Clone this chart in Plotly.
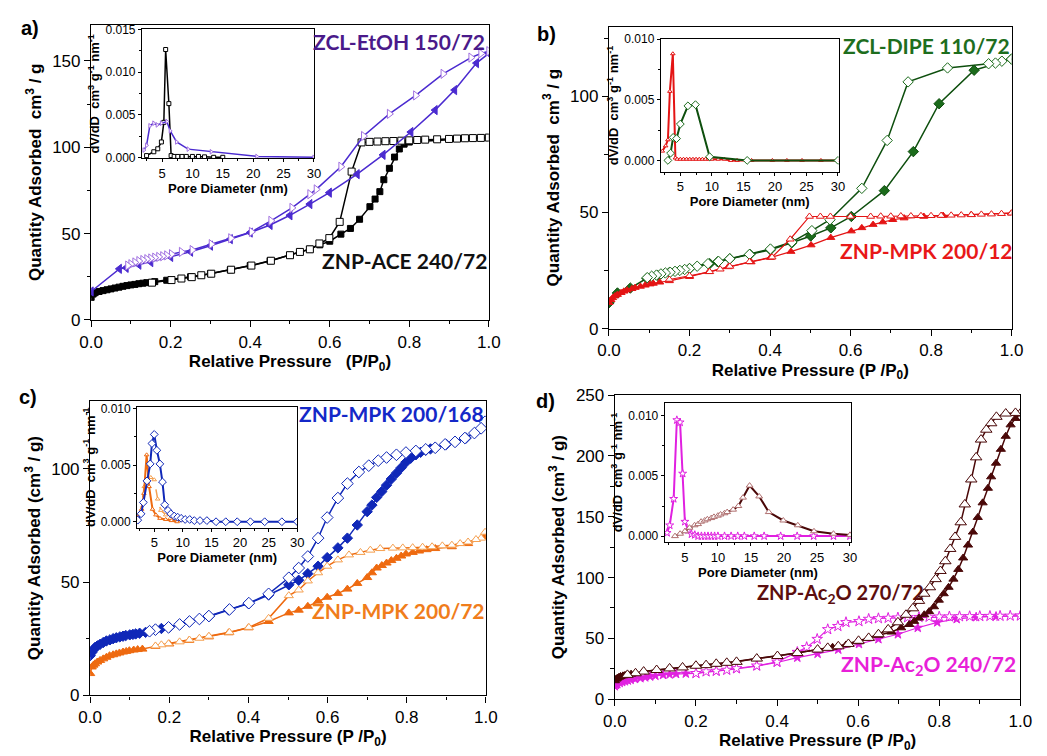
import plotly.graph_objects as go

W, H = 1047, 756

# ---------------- Panel a data ----------------
ace_ads_p = [0.0, 0.005, 0.01, 0.02, 0.03, 0.04, 0.05, 0.06, 0.07, 0.08, 0.09, 0.10, 0.11, 0.12, 0.13, 0.14, 0.16, 0.19,
             0.25, 0.3, 0.35, 0.4, 0.45, 0.5, 0.55, 0.575, 0.6, 0.628, 0.652, 0.675, 0.701, 0.714, 0.726, 0.736, 0.75,
             0.763, 0.775, 0.787, 0.8, 1.0]
ace_ads_q = [13.1, 15.0, 15.8, 16.5, 17.0, 17.5, 18.0, 18.5, 19.0, 19.5, 19.9, 20.3, 20.6, 21.0, 21.3, 21.6, 22.2, 23.0,
             25.0, 26.8, 29.0, 31.5, 34.3, 37.5, 41.0, 43.5, 45.6, 49.7, 53.0, 58.3, 65.6, 70.0, 74.3, 81.2, 87.8,
             94.3, 99.0, 101.8, 103.0, 105.6]
ace_des_p = [1.0, 0.98, 0.96, 0.94, 0.92, 0.9, 0.87, 0.84, 0.82, 0.8, 0.78, 0.76, 0.74, 0.72, 0.7, 0.68, 0.655, 0.625,
             0.599, 0.574, 0.55, 0.525, 0.5, 0.452, 0.403, 0.352, 0.302, 0.277, 0.253, 0.227, 0.202, 0.153]
ace_des_q = [105.6, 105.4, 105.3, 105.2, 105.0, 104.8, 104.6, 104.4, 104.2, 104.0, 103.8, 103.6, 103.5, 103.3, 103.1,
             102.8, 85.9, 56.8, 47.4, 44.3, 40.9, 39.4, 37.5, 34.3, 31.5, 29.1, 26.8, 25.9, 24.8, 24.0, 23.1, 21.6]
etoh_ads_p = [0.0, 0.071, 0.088, 0.12, 0.15, 0.2, 0.25, 0.3, 0.35, 0.4, 0.45, 0.5, 0.55, 0.599, 0.669, 0.734, 0.804,
              0.865, 0.914, 0.969, 1.0]
etoh_ads_q = [16.5, 29.6, 30.2, 32.0, 33.5, 36.5, 39.5, 43.0, 46.8, 50.6, 55.0, 60.6, 67.1, 73.7, 84.4, 95.6, 108.8,
              121.5, 133.1, 148.7, 154.3]
etoh_des_p = [1.0, 0.98, 0.955, 0.885, 0.816, 0.75, 0.685, 0.628, 0.566, 0.55, 0.505, 0.452, 0.403, 0.351, 0.302,
              0.254, 0.227, 0.202, 0.19, 0.18, 0.17, 0.16, 0.15, 0.14, 0.13, 0.12, 0.11, 0.1, 0.092]
etoh_des_q = [155.6, 154.3, 151.9, 142.5, 130.0, 119.3, 106.5, 88.7, 75.6, 72.8, 64.9, 57.4, 51.0, 47.3, 43.9, 40.5,
              39.4, 38.1, 37.4, 36.9, 36.5, 36.1, 35.6, 35.2, 34.7, 34.1, 33.3, 32.3, 31.5]
ace_psd_d = [2.46, 3.65, 4.3, 4.9, 5.3, 5.6, 6.13, 6.5, 7.0, 7.6, 8.3, 9.0, 10.0, 11.0, 12.0, 13.5, 15.0]
ace_psd_v = [0.0002, 0.00065, 0.001, 0.0018, 0.0041, 0.01265, 0.0063, 0.0002, 0.0001, 0.0001, 0.0001, 0.0001,
             0.0001, 0.0001, 0.00005, 0.0, 0.0]
etoh_psd_d = [2.03, 2.46, 3.0, 3.65, 4.2, 4.9, 5.8, 6.35, 7.4, 9.3, 13.1, 20.6, 30.0]
etoh_psd_v = [0.00085, 0.0014, 0.0037, 0.004, 0.0038, 0.004, 0.0042, 0.0031, 0.0018, 0.00096, 0.00065, 0.0001, 0.0]

# ---------------- Panel b data ----------------
dipe_ads_p = [0.0, 0.021, 0.053, 0.094, 0.12, 0.15, 0.2, 0.25, 0.27, 0.3, 0.35, 0.401, 0.454, 0.501, 0.551, 0.602,
              0.684, 0.756, 0.82, 0.907, 1.0]
dipe_ads_q = [11.2, 15.4, 17.5, 21.7, 23.0, 24.2, 25.9, 28.0, 28.8, 30.1, 32.0, 34.0, 37.0, 39.9, 43.4, 48.3, 59.4,
              76.2, 96.8, 111.2, 116.0]
dipe_des_p = [1.0, 0.976, 0.96, 0.943, 0.841, 0.743, 0.691, 0.628, 0.549, 0.504, 0.454, 0.401, 0.349, 0.3, 0.272,
              0.246, 0.219, 0.2, 0.188, 0.176, 0.164, 0.152, 0.14, 0.129, 0.118, 0.106, 0.095]
dipe_des_q = [116.0, 115.1, 114.3, 114.0, 112.2, 106.2, 81.0, 60.4, 46.9, 42.2, 37.3, 34.3, 32.0, 30.1, 29.0, 28.0,
              26.9, 25.9, 25.5, 25.1, 24.7, 24.3, 24.0, 23.6, 23.1, 22.6, 22.0]
mpk12_ads_p = [0.0, 0.005, 0.009, 0.015, 0.021, 0.03, 0.037, 0.045, 0.057, 0.065, 0.078, 0.09, 0.102, 0.11, 0.126,
               0.15, 0.2, 0.248, 0.296, 0.353, 0.401, 0.452, 0.502, 0.551, 0.602, 0.628, 0.656, 0.68, 0.705, 0.733,
               0.782, 0.83, 0.9, 1.0]
mpk12_ads_q = [11.2, 12.4, 13.3, 14.1, 14.7, 15.5, 16.1, 16.6, 17.2, 17.7, 18.2, 18.7, 19.2, 19.5, 20.0, 20.6, 22.4,
               24.5, 26.6, 28.7, 30.6, 33.2, 36.0, 39.2, 42.0, 43.4, 44.8, 45.9, 46.9, 47.6, 48.3, 48.7, 49.1, 49.7]
mpk12_des_p = [1.0, 0.975, 0.95, 0.925, 0.9, 0.875, 0.85, 0.825, 0.8, 0.775, 0.75, 0.725, 0.7, 0.675, 0.65, 0.6,
               0.55, 0.525, 0.498, 0.45, 0.405, 0.349, 0.3, 0.276, 0.25, 0.2, 0.15]
mpk12_des_q = [49.7, 49.5, 49.3, 49.2, 49.0, 48.9, 48.8, 48.7, 48.6, 48.6, 48.5, 48.5, 48.4, 48.4, 48.3, 48.3, 48.3,
               48.3, 48.3, 38.5, 30.8, 28.8, 26.8, 25.6, 24.5, 22.8, 21.2]
mpk12_psd_d = [2.15, 2.67, 3.03, 3.34, 3.81, 4.22, 4.5, 5.0, 5.5, 6.0, 6.5, 7.0, 7.5, 8.0, 8.5, 9.0, 9.5, 10.0, 11.0,
               12.0, 13.0, 14.0, 16.3, 19.6, 21.9, 24.3, 27.3, 30.0]
mpk12_psd_v = [0.00077, 0.0012, 0.0017, 0.0057, 0.0088, 0.0002, 0.0001, 0.0001, 0.0001, 0.0001, 0.0001, 0.0001,
               0.0001, 0.0001, 0.0001, 0.0001, 0.0001, 0.0001, 0.0001, 0.0001, 0.0, 0.0, 0.0, 0.0, 0.0, 0.0, 0.0, 0.0]
dipe_psd_d = [3.03, 3.45, 3.86, 4.4, 5.0, 6.2, 7.4, 9.65, 15.6, 30.0]
dipe_psd_v = [0.0, 0.0006, 0.0019, 0.0018, 0.003, 0.0045, 0.0046, 0.0003, 0.0, 0.0]

# ---------------- Panel c data ----------------
mpk168_ads_p = [0.0, 0.004, 0.008, 0.012, 0.018, 0.025, 0.033, 0.041, 0.05, 0.058, 0.066, 0.075, 0.083, 0.09, 0.1,
                0.108, 0.115, 0.125, 0.14, 0.165, 0.18, 0.2, 0.25, 0.3, 0.35, 0.4, 0.451, 0.502, 0.527, 0.55, 0.576,
                0.599, 0.626, 0.65, 0.675, 0.7, 0.712, 0.724, 0.737, 0.749, 0.761, 0.774, 0.786, 0.798, 0.81, 0.823,
                0.835, 0.848, 0.86, 0.872, 0.9, 0.95, 1.0]
mpk168_ads_q = [17.5, 18.9, 20.0, 21.1, 21.8, 22.5, 23.3, 24.0, 24.5, 25.0, 25.4, 25.8, 26.1, 26.4, 26.7, 26.9, 27.1,
                27.4, 27.8, 29.0, 29.5, 30.0, 32.5, 34.8, 37.7, 40.5, 44.3, 48.8, 50.8, 53.7, 57.0, 60.8, 65.1, 69.4,
                75.2, 81.1, 84.0, 87.4, 90.0, 92.8, 95.5, 98.1, 100.5, 102.9, 104.7, 106.2, 107.3, 108.2, 108.8, 109.3,
                110.8, 113.6, 120.0]
mpk168_des_p = [0.998, 0.988, 0.971, 0.947, 0.922, 0.897, 0.872, 0.848, 0.823, 0.798, 0.774, 0.749, 0.728, 0.704,
                0.679, 0.65, 0.626, 0.599, 0.576, 0.55, 0.527, 0.502, 0.451, 0.401, 0.352, 0.3, 0.276, 0.251, 0.226,
                0.198, 0.165, 0.15]
mpk168_des_q = [120.8, 117.9, 115.8, 113.6, 111.9, 110.8, 109.3, 108.6, 107.9, 107.2, 106.2, 105.0, 103.6, 101.4,
                98.6, 93.5, 87.1, 78.5, 69.4, 61.3, 56.2, 51.9, 44.8, 40.7, 37.9, 35.0, 33.7, 32.6, 31.3, 30.0, 29.0,
                28.3]
mpk72_ads_p = [0.0, 0.004, 0.008, 0.012, 0.018, 0.025, 0.033, 0.041, 0.049, 0.058, 0.066, 0.074, 0.083, 0.091,
               0.099, 0.11, 0.12, 0.132, 0.165, 0.2, 0.25, 0.3, 0.35, 0.4, 0.451, 0.502, 0.527, 0.55, 0.576, 0.599,
               0.626, 0.65, 0.675, 0.7, 0.712, 0.724, 0.737, 0.749, 0.761, 0.774, 0.786, 0.798, 0.815, 0.831, 0.85,
               0.872, 0.914, 0.955, 0.998]
mpk72_ads_q = [9.6, 12.5, 13.3, 13.9, 14.7, 15.4, 16.1, 16.8, 17.5, 17.9, 18.3, 18.7, 19.1, 19.4, 19.7, 20.0, 20.2,
               20.4, 21.6, 22.7, 24.2, 25.8, 27.6, 29.8, 32.6, 36.4, 37.6, 39.3, 41.6, 43.3, 45.0, 46.9, 49.4, 52.0,
               54.1, 56.2, 57.3, 58.4, 59.5, 60.5, 61.5, 62.4, 63.1, 63.7, 64.3, 64.8, 65.6, 67.0, 69.9]
mpk72_des_p = [0.998, 0.988, 0.975, 0.955, 0.935, 0.914, 0.89, 0.864, 0.84, 0.815, 0.79, 0.765, 0.733, 0.708, 0.683,
               0.654, 0.626, 0.599, 0.576, 0.55, 0.527, 0.502, 0.451, 0.401, 0.352, 0.3, 0.276, 0.251, 0.226, 0.198,
               0.18, 0.165]
mpk72_des_q = [72.0, 69.4, 68.8, 67.7, 67.0, 66.3, 66.0, 65.6, 65.4, 65.2, 65.1, 65.0, 64.8, 64.1, 63.1, 62.0, 59.8,
               57.0, 54.1, 50.5, 46.5, 44.0, 34.0, 30.0, 27.8, 26.1, 25.2, 24.4, 23.6, 22.8, 22.3, 21.8]
mpk168_psd_d = [2.12, 2.7, 3.1, 3.73, 4.3, 4.6, 5.0, 5.46, 5.98, 6.44, 6.84, 7.4, 7.9, 8.5, 9.1, 9.7, 10.4, 11.2,
                12.0, 13.0, 14.2, 15.8, 17.5, 19.5, 21.8, 24.3, 27.3, 30.0]
mpk168_psd_v = [0.00014, 0.0007, 0.0017, 0.0036, 0.0051, 0.0069, 0.0077, 0.0063, 0.0051, 0.0035, 0.0015, 0.001,
                0.0007, 0.0005, 0.0004, 0.0003, 0.0002, 0.0002, 0.0001, 0.0001, 0.0001, 0.0, 0.0, 0.0, 0.0, 0.0, 0.0,
                0.0]
mpk72_psd_d = [1.97, 2.8, 3.2, 3.67, 4.1, 4.7, 5.3, 6.0, 7.0, 8.0, 9.0]
mpk72_psd_v = [0.0004, 0.0011, 0.0025, 0.0059, 0.0031, 0.0011, 0.0006, 0.0003, 0.0002, 0.0001, 0.0]
mpk72b_psd_d = [2.5, 3.26, 3.85, 4.4, 5.0, 5.6, 6.15, 7.0, 7.8, 8.6, 9.5]
mpk72b_psd_v = [0.0006, 0.0031, 0.0037, 0.0039, 0.0037, 0.002, 0.001, 0.0006, 0.0003, 0.0002, 0.0001]

# ---------------- Panel d data ----------------
ac270_ads_p = [0.0, 0.003, 0.006, 0.01, 0.014, 0.02, 0.025, 0.031, 0.04, 0.051, 0.071, 0.103, 0.135, 0.167, 0.2,
               0.25, 0.3, 0.35, 0.401, 0.45, 0.5, 0.537, 0.57, 0.602, 0.626, 0.65, 0.682, 0.706, 0.726, 0.738, 0.75,
               0.763, 0.775, 0.787, 0.799, 0.811, 0.823, 0.835, 0.847, 0.859, 0.871, 0.883, 0.895, 0.907, 0.92,
               0.928, 0.94, 0.952, 0.964, 0.976, 0.988, 1.0]
ac270_ads_q = [15.2, 16.5, 17.3, 18.0, 18.7, 19.2, 19.6, 20.0, 20.6, 21.3, 22.7, 24.0, 25.3, 26.1, 27.5, 29.1, 30.7,
               33.4, 35.5, 37.9, 40.8, 42.7, 44.6, 47.2, 49.9, 52.6, 55.2, 58.7, 61.4, 64.0, 66.7, 69.4, 72.0, 76.0,
               81.4, 86.7, 92.0, 98.7, 106.7, 116.1, 126.7, 137.4, 149.4, 161.4, 173.4, 182.8, 194.0, 205.4, 216.1,
               225.5, 230.8, 234.8]
ac270_des_p = [1.0, 0.988, 0.964, 0.941, 0.928, 0.916, 0.903, 0.891, 0.879, 0.863, 0.853, 0.839, 0.827, 0.815,
               0.803, 0.791, 0.777, 0.763, 0.75, 0.735, 0.718, 0.698, 0.674, 0.65, 0.626, 0.601, 0.576, 0.551, 0.525,
               0.5, 0.45, 0.401, 0.35, 0.3, 0.276, 0.25, 0.225, 0.2, 0.167, 0.135, 0.103, 0.071, 0.051, 0.031]
ac270_des_q = [234.8, 235.3, 234.8, 232.1, 226.8, 221.5, 213.4, 198.8, 180.6, 160.1, 145.4, 133.4, 123.5, 113.4,
               105.4, 98.7, 92.0, 86.7, 80.8, 74.7, 69.4, 63.2, 57.4, 53.4, 50.4, 48.0, 45.4, 43.5, 42.2, 40.8, 37.9,
               35.5, 33.4, 30.7, 29.9, 29.1, 28.0, 27.5, 26.1, 25.3, 24.0, 22.7, 21.3, 20.0]
ac240_ads_p = [0.0, 0.003, 0.006, 0.012, 0.018, 0.025, 0.032, 0.039, 0.05, 0.063, 0.075, 0.087, 0.1, 0.119, 0.135,
               0.151, 0.175, 0.2, 0.25, 0.3, 0.35, 0.4, 0.45, 0.5, 0.551, 0.602, 0.65, 0.698, 0.747, 0.795, 0.843,
               0.891, 0.94, 1.0]
ac240_ads_q = [10.7, 11.8, 12.5, 13.4, 14.1, 14.8, 15.4, 16.0, 16.6, 17.3, 18.0, 18.7, 19.3, 20.0, 20.4, 20.8, 21.1,
               21.3, 23.0, 25.0, 27.2, 30.2, 34.2, 37.4, 40.8, 45.4, 49.4, 53.4, 58.7, 63.2, 65.9, 67.5, 68.0, 68.6]
ac240_des_p = [1.0, 0.975, 0.95, 0.925, 0.9, 0.875, 0.85, 0.825, 0.8, 0.775, 0.75, 0.722, 0.698, 0.674, 0.65, 0.626,
               0.602, 0.57, 0.55, 0.525, 0.499, 0.473, 0.45, 0.4, 0.35, 0.3, 0.276, 0.25, 0.225, 0.2]
ac240_des_q = [68.6, 68.5, 68.4, 68.3, 68.2, 68.1, 68.0, 67.9, 67.8, 67.6, 67.4, 67.2, 67.0, 66.7, 66.4, 65.9, 64.0,
               63.2, 60.0, 57.4, 49.4, 42.7, 38.7, 30.7, 27.5, 25.3, 24.0, 23.2, 22.7, 21.3]
ac240_psd_d = [2.3, 2.7, 3.3, 3.78, 4.27, 4.66, 5.0, 5.5, 6.0, 6.5, 7.0, 7.5, 8.0, 8.5, 9.0, 9.5, 10.0, 11.0, 12.0,
               13.0, 14.0, 15.5, 17.0, 19.5, 22.0, 24.5, 27.5, 30.0]
ac240_psd_v = [0.00027, 0.0009, 0.0031, 0.00965, 0.00946, 0.0052, 0.0012, 0.0005, 0.00016, 0.0001, 0.0, 0.0, 0.0,
               0.0, 0.0, 0.0, 0.0, 0.0, 0.0, 0.0, 0.0, 0.0, 0.0, 0.0, 0.0, 0.0, 0.0, 0.0]
ac270_psd_d = [3.5, 4.27, 5.0, 5.7, 6.47, 7.0, 7.45, 8.0, 8.4, 9.0, 9.4, 10.0, 10.4, 11.0, 11.4, 12.3, 13.1, 13.8,
               14.8, 16.25, 17.7, 19.9, 22.1, 24.55, 27.5, 30.0]
ac270_psd_v = [0.0, 0.0002, 0.0004, 0.0007, 0.0009, 0.001, 0.0012, 0.0013, 0.0014, 0.0015, 0.0016, 0.0017, 0.0018,
               0.0019, 0.002, 0.0022, 0.0025, 0.0032, 0.0042, 0.0033, 0.002, 0.0013, 0.0009, 0.0004, 0.0002, 0.0001]

# ---------------- figure ----------------
fig = go.Figure()


def add(ax, x, y, color, symbol, size, fill, lw=1.5, dash=None, mline=None, mlw=1):
    fig.add_trace(go.Scatter(
        x=x, y=y, xaxis='x' + ax, yaxis='y' + ax, mode='lines+markers',
        line=dict(color=color, width=lw, dash=dash),
        marker=dict(symbol=symbol, size=size, color=fill, line=dict(color=mline or color, width=mlw)),
        showlegend=False, hoverinfo='skip'))


BLACK = '#000000'
PURP = '#4B2BD0'
PURP_O = '#A070E0'
GREEN = '#0E4F0E'
GREEN_F = '#1B6B1B'
RED = '#E41414'
BLUE = '#1028B8'
ORANGE = '#EE6A10'
ORANGE_L = '#F5A050'
MAROON = '#4A0808'
MAGENTA = '#E020E0'

# a main
add('1', ace_ads_p, ace_ads_q, BLACK, 'square', 6, BLACK)
add('1', ace_des_p, ace_des_q, BLACK, 'square', 7, 'white')
add('1', etoh_ads_p, etoh_ads_q, PURP, 'triangle-left', 8, PURP)
add('1', etoh_des_p, etoh_des_q, PURP, 'triangle-right', 8, 'white', mline=PURP_O)
# a inset
add('2', ace_psd_d, ace_psd_v, BLACK, 'square', 4, 'white', lw=1.5)
add('2', etoh_psd_d, etoh_psd_v, PURP, 'triangle-right', 4, 'white', lw=1.5, mline=PURP_O)
# b main
add('3', dipe_ads_p, dipe_ads_q, GREEN, 'diamond', 8, GREEN_F)
add('3', dipe_des_p, dipe_des_q, GREEN, 'diamond', 8, 'white', mline=GREEN_F)
add('3', mpk12_ads_p, mpk12_ads_q, RED, 'triangle-up', 7, RED, lw=1.2)
add('3', mpk12_des_p, mpk12_des_q, RED, 'triangle-up', 7, 'white', lw=1.2)
# b inset
add('4', mpk12_psd_d, mpk12_psd_v, RED, 'triangle-up', 4, 'white', lw=2)
add('4', dipe_psd_d, dipe_psd_v, GREEN, 'diamond', 6, 'white', lw=2, mline=GREEN_F)
# c main
add('5', mpk168_ads_p, mpk168_ads_q, BLUE, 'diamond', 8, BLUE)
add('5', mpk168_des_p, mpk168_des_q, BLUE, 'diamond', 9, 'white')
add('5', mpk72_ads_p, mpk72_ads_q, ORANGE, 'triangle-up', 8, ORANGE)
add('5', mpk72_des_p, mpk72_des_q, ORANGE, 'triangle-up', 8, 'white', mline=ORANGE_L)
# c inset
add('6', mpk72b_psd_d, mpk72b_psd_v, ORANGE_L, 'triangle-up', 4, 'white', lw=1.5, dash='dash')
add('6', mpk72_psd_d, mpk72_psd_v, ORANGE, 'triangle-up', 4, 'white', lw=2)
add('6', mpk168_psd_d, mpk168_psd_v, BLUE, 'diamond', 6, 'white', lw=2)
# d main
add('7', ac240_ads_p, ac240_ads_q, MAGENTA, 'star', 7, MAGENTA, lw=1.2)
add('7', ac240_des_p, ac240_des_q, MAGENTA, 'star', 8, 'white', lw=1.2)
add('7', ac270_ads_p, ac270_ads_q, MAROON, 'triangle-up', 8, MAROON)
add('7', ac270_des_p, ac270_des_q, MAROON, 'triangle-up', 10, 'white')
# d inset
add('8', ac240_psd_d, ac240_psd_v, MAGENTA, 'star', 6, 'white', lw=2)
add('8', ac270_psd_d, ac270_psd_v, MAROON, 'triangle-up', 6, 'white', lw=2, mline='#B07070')


def dx(a, b):
    return [a / W, b / W]


def dy(top, bottom):
    return [1 - bottom / H, 1 - top / H]


FONT = 'Liberation Sans, Arial, sans-serif'


def axis(domain, rng, dtick, mdtick, title, anchor, tsize, fsize, tlen, fmt=None, standoff=4):
    return dict(domain=domain, range=rng, anchor=anchor, dtick=dtick, tick0=0, tickformat=fmt,
                showline=True, mirror=True, linecolor='black', linewidth=1.4,
                ticks='outside', ticklen=tlen, tickwidth=1.2, tickcolor='black',
                minor=dict(dtick=mdtick, tick0=0, ticks='outside', ticklen=max(2, tlen * 0.55), tickwidth=1,
                           tickcolor='black'),
                showgrid=False, zeroline=False, tickfont=dict(family=FONT, size=fsize, color='black'),
                title=dict(text=title, font=dict(family=FONT, size=tsize, color='black'), standoff=standoff))


YT1 = '<b>Quantity Adsorbed  cm<sup>3</sup> / g</b>'
YT2 = '<b>Quantity Adsorbed (cm<sup>3</sup> / g)</b>'
XT1 = '<b>Relative Pressure   (P/P<sub>0</sub>)</b>'
XT2 = '<b>Relative Pressure (P /P<sub>0</sub>)</b>'
IX = '<b>Pore Diameter (nm)</b>'
IY = '<b>dV/dD  cm<sup>3</sup> g<sup>-1</sup> nm<sup>-1</sup></b>'

layout = dict(width=W, height=H, margin=dict(l=0, r=0, t=0, b=0), paper_bgcolor='white', plot_bgcolor='white',
              showlegend=False)

mains = [  # (id, x px, y px, yrange, ydtick, ytitle, xtitle)
    ('1', (81, 488), (16, 319), [0, 171], 50, YT1, XT1),
    ('3', (611, 1023), (18, 328), [0, 130], 50, YT1, XT2),
    ('5', (80, 485), (402, 704), [0, 130], 50, YT2, XT2),
    ('7', (617, 1032), (396, 708), [0, 250], 50, YT2, XT2),
]
for i, xp, yp, yr, ydt, yt, xt in mains:
    n = '' if i == '1' else i
    layout['xaxis' + n] = axis(dx(*xp), [0, 1], 0.2, 0.1, xt, 'y' + i, 17, 17, 6, '.1f', standoff=4)
    layout['yaxis' + n] = axis(dy(*yp), yr, ydt, 25, yt, 'x' + i, 17, 17, 6, None, standoff=6)

insets = [  # (id, x px, y px, xrange, yrange)
    ('2', (133, 309), (21, 153), [1.7, 30], [-0.0001, 0.015]),
    ('4', (664, 846), (31, 167), [1.9, 30.1], [-0.00094, 0.010]),
    ('6', (128, 292), (408, 532), [2.0, 30], [-0.00052, 0.01014]),
    ('8', (668, 859), (404, 547), [1.94, 30.2], [-0.00051, 0.01108]),
]
for i, xp, yp, xr, yr in insets:
    layout['xaxis' + i] = axis(dx(*xp), xr, 5, 2.5, IX, 'y' + i, 13, 13, 3, None, standoff=0)
    layout['yaxis' + i] = axis(dy(*yp), yr, 0.005, 0.0025, IY, 'x' + i, 13, 12, 3, '.3f', standoff=2)
    layout['xaxis' + i]['linewidth'] = 1
    layout['yaxis' + i]['linewidth'] = 1

fig.update_layout(**layout)


def note(text, x, y, color, size=21, family='Lato, Carlito, sans-serif', xanchor='center'):
    fig.add_annotation(text=text, x=x / W, y=1 - y / H, xref='paper', yref='paper', showarrow=False,
                       font=dict(family=family, size=size, color=color), xanchor=xanchor, yanchor='middle')


note('<b>a)</b>', 18, 20, 'black', 20, FONT)
note('<b>b)</b>', 547, 26, 'black', 20, FONT)
note('<b>c)</b>', 16, 398, 'black', 20, FONT)
note('<b>d)</b>', 546, 402, 'black', 20, FONT)

note('<b>ZCL-EtOH 150/72</b>', 396, 33, '#4A1A8A')
note('<b>ZNP-ACE 240/72</b>', 402, 258, '#111111')
note('<b>ZCL-DIPE 110/72</b>', 936, 37, '#1E6E1E')
note('<b>ZNP-MPK 200/12</b>', 936, 248, '#E81818')
note('<b>ZNP-MPK 200/168</b>', 388, 415, '#1428C8')
note('<b>ZNP-MPK 200/72</b>', 396, 617, '#F07D1B')
note('<b>ZNP-Ac<sub>2</sub>O 270/72</b>', 848, 600, '#5C0E0E', 20)
note('<b>ZNP-Ac<sub>2</sub>O 240/72</b>', 938, 673, '#E81FD8')

fig.write_html('out.html')
